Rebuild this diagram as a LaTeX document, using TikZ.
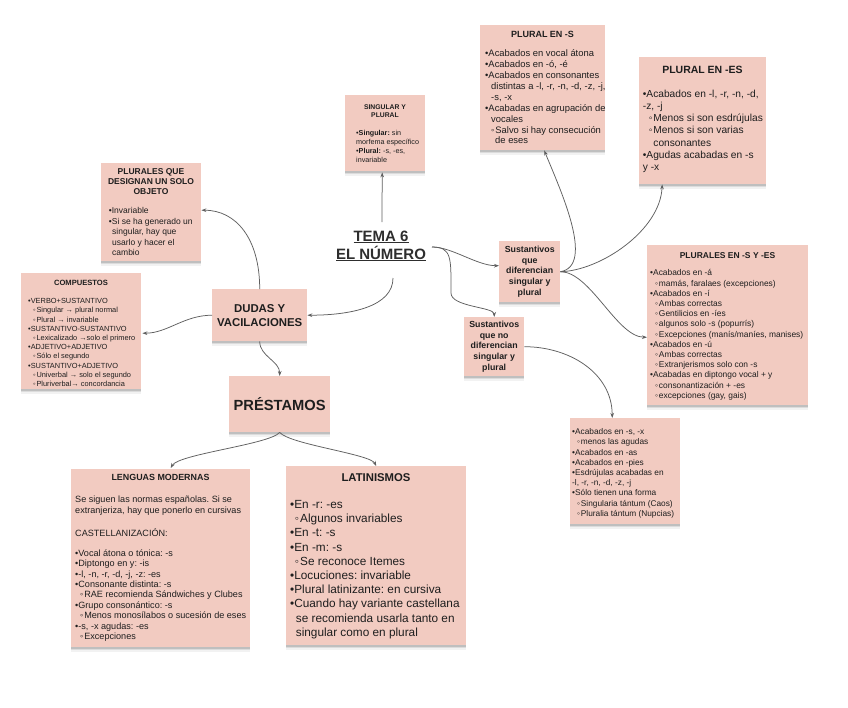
\documentclass[tikz,border=0pt]{standalone}
\usepackage{fontspec}
\setmainfont{Liberation Sans}
\usetikzlibrary{arrows.meta,calc,shadows}
\definecolor{boxpink}{HTML}{F2CBC1}
\definecolor{txt}{HTML}{1E1E1E}
\definecolor{temac}{HTML}{2E2E2E}
\definecolor{connc}{HTML}{5F5F5F}
\newcommand{\fs}[2]{\fontsize{#1}{#2}\selectfont}
\newcommand{\sbul}{\makebox[0.45em][l]{◦}}
\newcommand{\ii}[1]{\hspace*{#1pt}}
\newcommand{\uline}[1]{\setbox0\hbox{#1}\rlap{\rule[-2.2pt]{\wd0}{1.2pt}}\box0}
\frenchspacing
\begin{document}
\begin{tikzpicture}[x=1pt,y=-1pt,
  box/.style={fill=boxpink, inner sep=0pt, anchor=north west,
    drop shadow={shadow xshift=0pt,shadow yshift=-4.5pt,opacity=0.05,fill=black},
    drop shadow={shadow xshift=0pt,shadow yshift=-3pt,opacity=0.09,fill=black},
    drop shadow={shadow xshift=0pt,shadow yshift=-1.5pt,opacity=0.13,fill=black}},
  ttl/.style={anchor=north, align=center, inner sep=0pt, text=txt},
  body/.style={anchor=north west, align=left, inner sep=0pt, text=txt},
  cbox/.style={box, align=center, text=txt},
  link/.style={draw=connc, line width=0.75pt, -{Stealth[length=5pt,width=3.6pt]}}]
\fill[white] (0,0) rectangle (848,707);
\useasboundingbox (0,0) rectangle (848,707);

% central title
\node[inner sep=0pt, align=center, font={\fs{15}{18}\bfseries}, text=temac] (tema) at (381,246) {\uline{TEMA 6}\\\uline{EL NÚMERO}};

% SINGULAR Y PLURAL
\node[box, minimum width=80pt, minimum height=76pt] (sp) at (345,95) {};
\node[ttl, font={\fs{6.8}{8.5}\bfseries}] (spt) at (385,104.5) {SINGULAR Y\\PLURAL};
\node[body, font=\fs{7.2}{9}] (spb) at (356,130.4) {•\textbf{Singular:} sin\\morfema específico\\•\textbf{Plural:} -s, -es,\\invariable};

% PLURAL EN -S
\node[box, minimum width=125pt, minimum height=125pt] (ps) at (480,25) {};
\node[ttl, font={\fs{9}{10}\bfseries}] (pst) at (542.5,30.8) {PLURAL EN -S};
\node[body, font=\fs{9.4}{10.9}] (psb) at (485,49.6) {•Acabados en vocal átona\\
•Acabados en -ó, -é\\
•Acabados en consonantes\\
\ii{6}distintas a -l, -r, -n, -d, -z, -j,\\
\ii{6}-s, -x\\
•Acabadas en agrupación de\\
\ii{6}vocales\\
\ii{6}\sbul Salvo si hay consecución\\
\ii{10}de eses};

% PLURAL EN -ES
\node[box, minimum width=127pt, minimum height=127pt] (pes) at (639,57) {};
\node[ttl, font={\fs{10.5}{12}\bfseries}] (pest) at (702.5,66.2) {PLURAL EN -ES};
\node[body, font=\fs{10.2}{12.2}] (pesb) at (642.7,89.7) {•Acabados en -l, -r, -n, -d,\\
-z, -j\\
\ii{6}\sbul Menos si son esdrújulas\\
\ii{6}\sbul Menos si son varias\\
\ii{10.5}consonantes\\
•Agudas acabadas en -s\\
y -x};

% PLURALES QUE DESIGNAN UN SOLO OBJETO
\node[box, minimum width=100pt, minimum height=98pt] (pqd) at (101,163) {};
\node[ttl, font={\fs{8.5}{10}\bfseries}] (pqdt) at (151,167.9) {PLURALES QUE\\DESIGNAN UN SOLO\\OBJETO};
\node[body, font=\fs{8.5}{10.5}] (pqdb) at (108.7,207.4) {•Invariable\\
•Si se ha generado un\\
\ii{3.3}singular, hay que\\
\ii{3.3}usarlo y hacer el\\
\ii{3.3}cambio};

% COMPUESTOS
\node[box, minimum width=120pt, minimum height=116pt] (comp) at (21,273) {};
\node[ttl, font={\fs{7.6}{9}\bfseries}] (compt) at (81,280.3) {COMPUESTOS};
\node[body, font=\fs{7.4}{9.2}] (compb) at (28,298.3) {•VERBO+SUSTANTIVO\\
\ii{5}\sbul Singular → plural normal\\
\ii{5}\sbul Plural → invariable\\
•SUSTANTIVO-SUSTANTIVO\\
\ii{5}\sbul Lexicalizado →solo el primero\\
•ADJETIVO+ADJETIVO\\
\ii{5}\sbul Sólo el segundo\\
•SUSTANTIVO+ADJETIVO\\
\ii{5}\sbul Univerbal → solo el segundo\\
\ii{5}\sbul Pluriverbal→ concordancia};

% PLURALES EN -S Y -ES
\node[box, minimum width=161pt, minimum height=160pt] (pses) at (647,245) {};
\node[ttl, font={\fs{8.5}{10}\bfseries}] (pset) at (727.5,252) {PLURALES EN -S Y -ES};
\node[body, font=\fs{8.4}{10.2}] (pseb) at (650,269.5) {•Acabados en -á\\
\ii{5}\sbul mamás, faralaes (excepciones)\\
•Acabados en -í\\
\ii{5}\sbul Ambas correctas\\
\ii{5}\sbul Gentilicios en -íes\\
\ii{5}\sbul algunos solo -s (popurrís)\\
\ii{5}\sbul Excepciones (manís/maníes, manises)\\
•Acabados en -ú\\
\ii{5}\sbul Ambas correctas\\
\ii{5}\sbul Extranjerismos solo con -s\\
•Acabadas en diptongo vocal + y\\
\ii{5}\sbul consonantización + -es\\
\ii{5}\sbul excepciones (gay, gais)};

% Sustantivos boxes
\node[cbox, minimum width=61pt, minimum height=61pt, font={\fs{8.8}{10.7}\bfseries}] (sd) at (499,241) {Sustantivos\\que\\diferencian\\singular y\\plural};
\node[cbox, minimum width=60pt, minimum height=59pt, font={\fs{8.8}{10.7}\bfseries}] (snd) at (464,317) {Sustantivos\\que no\\diferencian\\singular y\\plural};

% bottom right box
\node[box, minimum width=110pt, minimum height=106pt] (br) at (570,418) {};
\node[body, font=\fs{8.3}{10.2}] (brb) at (572,428.5) {•Acabados en -s, -x\\
\ii{5}\sbul menos las agudas\\
•Acabados en -as\\
•Acabados en -pies\\
•Esdrújulas acabadas en\\
-l, -r, -n, -d, -z, -j\\
•Sólo tienen una forma\\
\ii{5}\sbul Singularia tántum (Caos)\\
\ii{5}\sbul Pluralia tántum (Nupcias)};

% DUDAS and PRESTAMOS
\node[cbox, minimum width=95pt, minimum height=52pt, font={\fs{11.4}{14}\bfseries}] (dudas) at (212,289) {DUDAS Y\\VACILACIONES};
\node[cbox, minimum width=101pt, minimum height=56pt, font={\fs{14.7}{17}\bfseries}] (prest) at (229,376) {PRÉSTAMOS};

% LENGUAS MODERNAS
\node[box, minimum width=179pt, minimum height=178pt] (lm) at (71,469) {};
\node[ttl, font={\fs{8.9}{10}\bfseries}] (lmt) at (160.5,473.8) {LENGUAS MODERNAS};
\node[body, font=\fs{9.1}{10.4}] (lmb) at (75,496.1) {Se siguen las normas españolas. Si se\\
extranjeriza, hay que ponerlo en cursivas\\[12.6pt]
CASTELLANIZACIÓN:\\[9.6pt]
•Vocal átona o tónica: -s\\
•Diptongo en y: -is\\
•-l, -n, -r, -d, -j, -z: -es\\
•Consonante distinta: -s\\
\ii{5}\sbul RAE recomienda Sándwiches y Clubes\\
•Grupo consonántico: -s\\
\ii{5}\sbul Menos monosílabos o sucesión de eses\\
•-s, -x agudas: -es\\
\ii{5}\sbul Excepciones};

% LATINISMOS
\node[box, minimum width=180pt, minimum height=179pt] (lat) at (286,466) {};
\node[ttl, font={\fs{11.3}{13}\bfseries}] (latt) at (376,473) {LATINISMOS};
\node[body, font=\fs{11.8}{14.2}] (latb) at (290,500.1) {•En -r: -es\\
\ii{4.7}\sbul Algunos invariables\\
•En -t: -s\\
•En -m: -s\\
\ii{4.7}\sbul Se reconoce Itemes\\
•Locuciones: invariable\\
•Plural latinizante: en cursiva\\
•Cuando hay variante castellana\\
\ii{5.7}se recomienda usarla tanto en\\
\ii{5.7}singular como en plural};

% connectors
\draw[link] ($(tema.center)+(1,-24)$) -- ($(sp.south)+(-3,1)$);
\draw[link] ($(tema.center)+(12,32)$) .. controls +(0,28) and +(45,0) .. (dudas.east);
\draw[link] ($(tema.center)+(51,1)$) .. controls +(20,0) and +(-22,0) .. ($(sd.west)+(0,-6)$);
\draw[link] ($(tema.center)+(51,1)$) .. controls +(20,0) and +(0,-35) .. (451,293) .. controls +(0,14) and +(0,-10) .. (snd.north);
\draw[link] (sd.east) .. controls +(35,-6) and +(16,39) .. ($(ps.south)+(1.5,0)$);
\draw[link] (sd.east) .. controls +(40,-1) and +(-2,46) .. ($(pes.south)+(-40.5,0)$);
\draw[link] (sd.east) .. controls +(30,0) and +(-30,0) .. ($(pses.west)+(0,12)$);
\draw[link] (snd.east) .. controls +(45,0) and +(0,-45) .. ($(br.north)+(-13,0)$);
\draw[link] (dudas.north) .. controls +(0,-50) and +(35,0) .. ($(pqd.east)+(0,-2)$);
\draw[link] (dudas.west) .. controls +(-28,0) and +(25,0) .. ($(comp.east)+(1,2)$);
\draw[link] (dudas.south) .. controls +(0,15) and +(0,-15) .. (prest.north);
\draw[link] (prest.south) .. controls +(-10,12) and +(8,-14) .. ($(lm.north)+(10,-1)$);
\draw[link] (prest.south) .. controls +(10,12) and +(-6,-12) .. (lat.north);
\end{tikzpicture}
\end{document}
